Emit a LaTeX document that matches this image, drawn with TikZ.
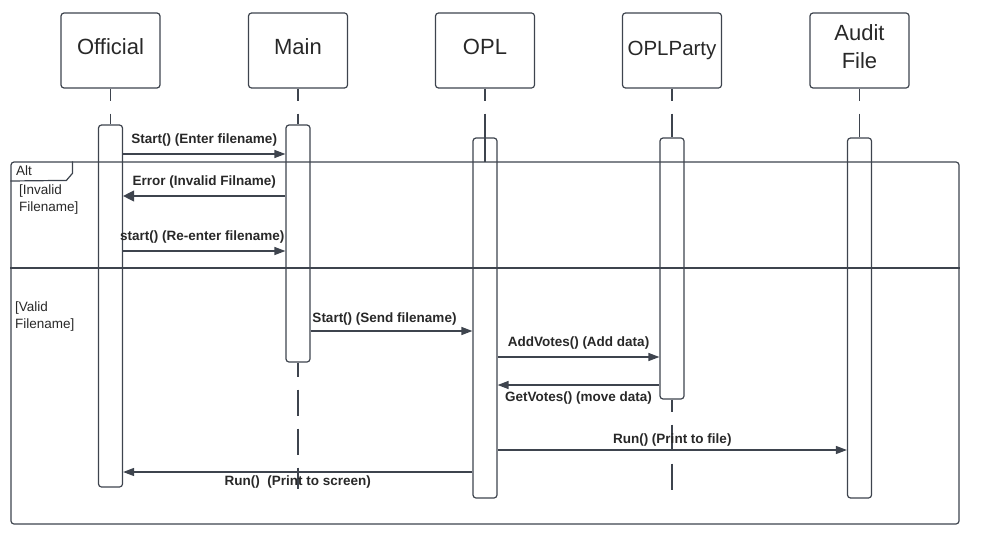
\documentclass[tikz,border=0pt]{standalone}
\usepackage{fontspec}
\setmainfont{Liberation Sans}
\usetikzlibrary{arrows.meta,calc}
\definecolor{ln}{RGB}{62,68,78}
\definecolor{tx}{RGB}{40,40,40}
\begin{document}
\begin{tikzpicture}[x=1pt,y=-1pt,
 head/.style={draw=ln,line width=1.2pt,rounded corners=3pt,minimum width=99pt,minimum height=75pt,inner sep=0pt,font=\fontsize{22}{28}\selectfont,text=tx,align=center,text depth=8pt},
 act/.style={draw=ln,fill=white,line width=1.2pt,rounded corners=3pt,minimum width=24pt,inner sep=0pt},
 life/.style={draw=ln,line width=1.3pt,dash pattern=on 26pt off 13pt,dash phase=14pt},
 msg/.style={draw=ln,line width=1.3pt,-{Triangle[length=11pt,width=8pt]}},
 bigmsg/.style={draw=ln,line width=1.3pt,-{Triangle[length=11pt,width=11pt]}},
 lbl/.style={font=\fontsize{13.5}{16}\selectfont\bfseries,text=tx,inner sep=0pt,anchor=base},
 ftxt/.style={font=\fontsize{13.5}{17}\selectfont,text=tx,align=left,inner sep=0pt,anchor=north west},
 frm/.style={draw=ln,line width=1.2pt}]
\useasboundingbox (0,0) rectangle (984,543);

% heads
\node[head] (hOff) at (110.5,50.5) {Official};
\node[head] (hMain) at (298,50.5) {Main};
\node[head] (hOPL) at (485,50.5) {OPL};
\node[head,font=\fontsize{20.5}{26}\selectfont,text depth=5pt] (hParty) at (672,50.5) {OPLParty};
\node[head] (hAudit) at (859.5,50.5) {Audit\\File};

% activation boxes
\node[act,minimum height=362pt] (aOff) at (110.5,306) {};
\node[act,minimum height=237pt] (aMain) at (298,243.5) {};
\node[act,minimum height=360pt] (aOPL) at (485,318) {};
\node[act,minimum height=261pt] (aParty) at (672,268.5) {};
\node[act,minimum height=360pt] (aAudit) at (859.5,318) {};

% lifelines
\draw[life] (hOff.south) -- (aOff.north);
\draw[life] (hMain.south) -- (aMain.north);
\draw[life] (hOPL.south) -- (aOPL.north);
\draw[life] (hParty.south) -- (aParty.north);
\draw[life] (hAudit.south) -- (aAudit.north);
\coordinate (eMain) at (298,489);
\coordinate (eParty) at (672,498);
\draw[life,dash phase=12pt] (aMain.south) -- (eMain);
\draw[life] (aParty.south) -- (eParty);
\draw[draw=ln,line width=1.3pt] (aOPL.north) -- (aOPL.north |- 0,162);

% alt frame
\node[frm,rounded corners=3pt,minimum width=948pt,minimum height=362pt,inner sep=0pt] (alt) at (485,343) {};
\draw[frm] (alt.west |- 0,268) -- (alt.east |- 0,268);
\draw[frm] (alt.north west) ++(62,0) -- ++(0,12) -- ++(-6,7) -- (alt.west |- 0,181);
\node[font=\fontsize{13.5}{16}\selectfont,text=tx,inner sep=0pt,anchor=base west] (tAlt) at (16,175) {Alt};
\node[ftxt] (tInv) at (19,185) {[Invalid\\Filename]};
\node[ftxt] (tVal) at (15,301.5) {[Valid\\Filename]};

% messages
\draw[msg] (aOff.east |- 0,154) -- node[lbl,yshift=11pt] {Start() (Enter filename)} (aMain.west |- 0,154);
\draw[bigmsg] (aMain.west |- 0,196) -- node[lbl,yshift=11pt] {Error (Invalid Filname)} (aOff.east |- 0,196);
\draw[msg] (aOff.east |- 0,251) -- node[lbl,yshift=11pt,xshift=-2pt] {start() (Re-enter filename)} (aMain.west |- 0,251);
\draw[msg] (aMain.east |- 0,331) -- node[lbl,yshift=9pt,xshift=-7pt] {Start() (Send filename)} (aOPL.west |- 0,331);
\draw[msg] (aOPL.east |- 0,357) -- node[lbl,yshift=11pt] {AddVotes() (Add data)} (aParty.west |- 0,357);
\draw[msg] (aParty.west |- 0,385) -- node[lbl,yshift=-16pt] {GetVotes() (move data)} (aOPL.east |- 0,385);
\draw[msg] (aOPL.east |- 0,450) -- node[lbl,yshift=7pt] {Run() (Print to file)} (aAudit.west |- 0,450);
\draw[msg] (aOPL.west |- 0,472) -- node[lbl,yshift=-13pt] {Run()\ \ (Print to screen)} (aOff.east |- 0,472);
\end{tikzpicture}
\end{document}
